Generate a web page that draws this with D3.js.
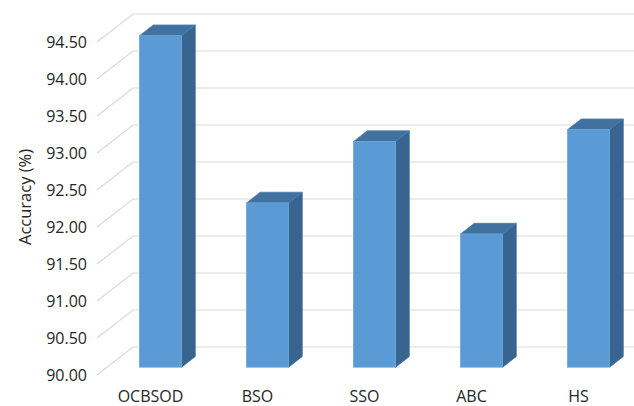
<!DOCTYPE html>
<html>
<head>
<meta charset="utf-8">
<script src="https://cdn.jsdelivr.net/npm/d3@7"></script>
<style>
  html, body { margin: 0; padding: 0; background: #ffffff; }
  svg { display: block; }
  text { font-family: "Open Sans", "Liberation Sans", sans-serif; fill: #262626; }
</style>
</head>
<body>
<svg id="chart" width="634" height="406"></svg>
<script>
// Accuracy of each optimisation method
const categories = ["OCBSOD", "BSO", "SSO", "ABC", "HS"];
const accuracy = [94.48, 92.22, 93.05, 91.80, 93.21];
const yTicks = [90.0, 90.5, 91.0, 91.5, 92.0, 92.5, 93.0, 93.5, 94.0, 94.5];

const W = 634, H = 406;
const svg = d3.select("#chart").attr("width", W).attr("height", H);

// Front plane scales
const x = d3.scaleBand().domain(categories).range([97, 632]);
const y = d3.scaleLinear().domain([90, 94.5]).range([375, 42]);

// Oblique depth: offset of the back wall, and the front/back depth of each bar
const wall = { dx: 36, dy: -28 };
const t0 = 0.28, t1 = 0.66;
const barW = 42;

// Gridlines: diagonal on the side wall, horizontal on the back wall
const grid = svg.append("g").attr("stroke", "#d9d9d9").attr("stroke-width", 1.2).attr("fill", "none");
yTicks.forEach(v => {
  const yf = y(v);
  const x0 = x.range()[0];
  grid.append("path")
    .attr("d", `M${x0},${yf} L${x0 + wall.dx},${yf + wall.dy} L${W},${yf + wall.dy}`);
});

// Tick labels
svg.append("g").selectAll("text").data(yTicks).join("text")
  .attr("x", 87)
  .attr("y", d => y(d))
  .attr("dy", "0.36em")
  .attr("text-anchor", "end")
  .attr("font-size", 16)
  .text(d => d3.format(".2f")(d));

// Axis title
svg.append("text")
  .attr("transform", "translate(25,197) rotate(-90)")
  .attr("text-anchor", "middle")
  .attr("dy", "0.36em")
  .attr("font-size", 16.5)
  .text("Accuracy (%)");

// Bars as oblique prisms
const bars = svg.append("g");
const f = { dx: wall.dx * t0, dy: wall.dy * t0 };
const b = { dx: wall.dx * t1, dy: wall.dy * t1 };
categories.forEach((c, i) => {
  const v = accuracy[i];
  const cx = x(c) + x.bandwidth() / 2;
  const xl = cx - barW / 2, xr = cx + barW / 2;
  const yt = y(v), yb = y(90);
  const g = bars.append("g");
  // right side face
  g.append("path")
    .attr("d", `M${xr + f.dx},${yt + f.dy} L${xr + b.dx},${yt + b.dy} L${xr + b.dx},${yb + b.dy} L${xr + f.dx},${yb + f.dy} Z`)
    .attr("fill", "#386590").attr("stroke", "#3f6d98").attr("stroke-width", 0.8);
  // top face
  g.append("path")
    .attr("d", `M${xl + f.dx},${yt + f.dy} L${xl + b.dx},${yt + b.dy} L${xr + b.dx},${yt + b.dy} L${xr + f.dx},${yt + f.dy} Z`)
    .attr("fill", "#41729f").attr("stroke", "#4a7cab").attr("stroke-width", 0.8);
  // front face
  g.append("rect")
    .attr("x", xl + f.dx).attr("y", yt + f.dy)
    .attr("width", barW).attr("height", yb - yt)
    .attr("fill", "#5b9bd5").attr("stroke", "#6aa6dc").attr("stroke-width", 0.8);
});

// Category labels on the front plane
svg.append("g").selectAll("text").data(categories).join("text")
  .attr("x", d => x(d) + x.bandwidth() / 2)
  .attr("y", 402)
  .attr("text-anchor", "middle")
  .attr("font-size", 16)
  .text(d => d);
</script>
</body>
</html>
